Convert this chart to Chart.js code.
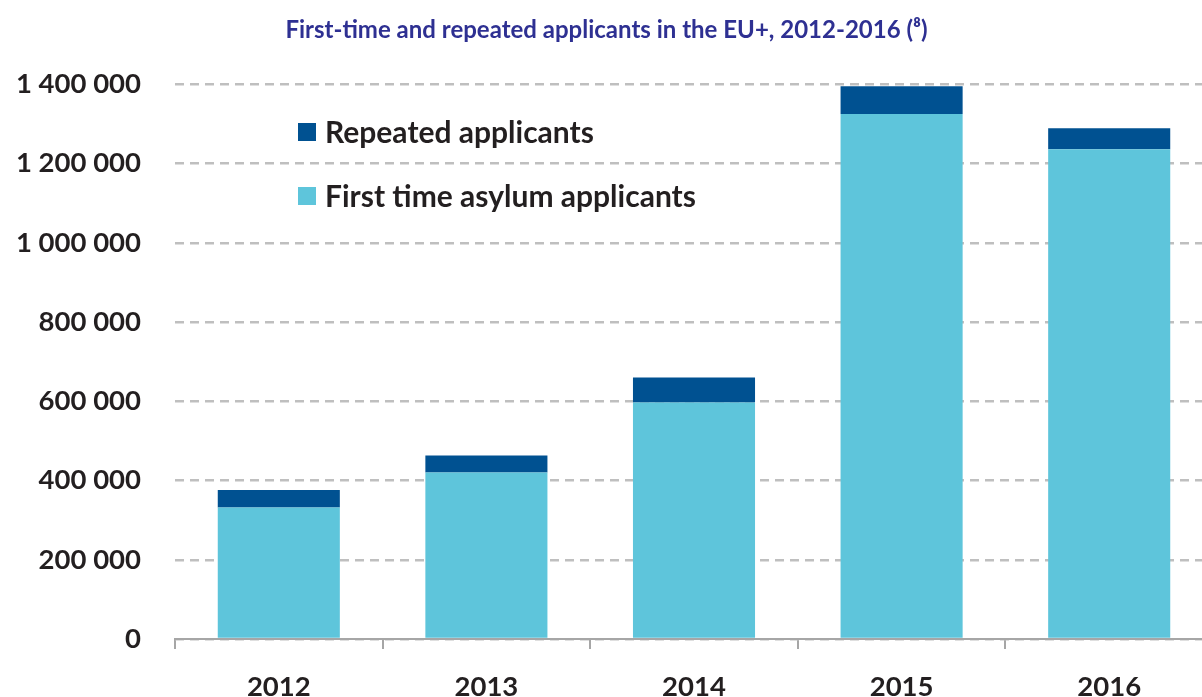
<!DOCTYPE html>
<html><head><meta charset="utf-8">
<script src="https://cdn.jsdelivr.net/npm/chart.js@4"></script>
<style>
html,body{margin:0;padding:0;background:#fff;overflow:hidden;width:1202px;height:697px;}
#wrap{position:absolute;left:0;top:0;width:1214px;height:697px;}
</style></head>
<body><div id="wrap"><canvas id="c" width="1214" height="697"></canvas></div>
<script>
const categories = ['2012','2013','2014','2015','2016'];
const firstTime = [332000, 420000, 597000, 1325000, 1236000];
const repeated = [44000, 43000, 63000, 70000, 53000];
const yTicks = [0, 200000, 400000, 600000, 800000, 1000000, 1200000, 1400000];
const titleText = 'First-time and repeated applicants in the EU+, 2012-2016 (\u2078)';
const FONT = 'Lato, "Open Sans", sans-serif';

const legendPlugin = {
  id: 'inLegend',
  afterDraw(chart) {
    const ctx = chart.ctx;
    const items = [chart.data.datasets[1], chart.data.datasets[0]];
    ctx.save();
    ctx.font = 'bold 30px ' + FONT;
    ctx.textBaseline = 'middle';
    ctx.textAlign = 'left';
    items.forEach((ds, i) => {
      const y = 132 + i * 64;
      ctx.fillStyle = ds.backgroundColor;
      ctx.fillRect(298, y - 9, 18, 18);
      ctx.fillStyle = '#231F20';
      ctx.fillText(ds.label, 325, y + 1);
    });
    ctx.restore();
  }
};

new Chart(document.getElementById('c'), {
  type: 'bar',
  data: {
    labels: categories,
    datasets: [
      { label: 'First time asylum applicants', data: firstTime, backgroundColor: '#5EC5DB', barPercentage: 0.588, categoryPercentage: 1.0 },
      { label: 'Repeated applicants', data: repeated, backgroundColor: '#005191', barPercentage: 0.588, categoryPercentage: 1.0 }
    ]
  },
  options: {
    responsive: false,
    animation: false,
    devicePixelRatio: 1,
    layout: { padding: { left: 0, right: 1, top: 0, bottom: 0 } },
    plugins: {
      legend: { display: false },
      tooltip: { enabled: false },
      title: {
        display: true, text: titleText, color: '#2E3092',
        font: { family: FONT, size: 24, weight: 'bold' },
        padding: { top: 16, bottom: 39.5 }
      }
    },
    scales: {
      x: {
        stacked: true,
        afterFit(s) { s.height = 58; },
        border: { display: true, color: '#A6A6A6', width: 2 },
        grid: { display: true, offset: true, drawOnChartArea: false, drawTicks: true, tickLength: 10, color: '#A6A6A6', lineWidth: 2 },
        ticks: { color: '#231F20', padding: 22, font: { family: FONT, size: 27.5, weight: 'bold' } }
      },
      y: {
        stacked: true,
        min: 0, max: 1400000,
        afterFit(s) { s.width = 175; },
        afterBuildTicks(s) { s.ticks = yTicks.map(v => ({ value: v })); },
        border: { display: false, dash: [9, 6] },
        grid: { color: '#BFBFBF', lineWidth: 2.5, drawTicks: false },
        ticks: {
          color: '#231F20', padding: 34,
          font: { family: FONT, size: 27.5, weight: 'bold' },
          callback: v => String(v).replace(/\B(?=(\d{3})+(?!\d))/g, ' ')
        }
      }
    }
  },
  plugins: [legendPlugin]
});
</script></body></html>
